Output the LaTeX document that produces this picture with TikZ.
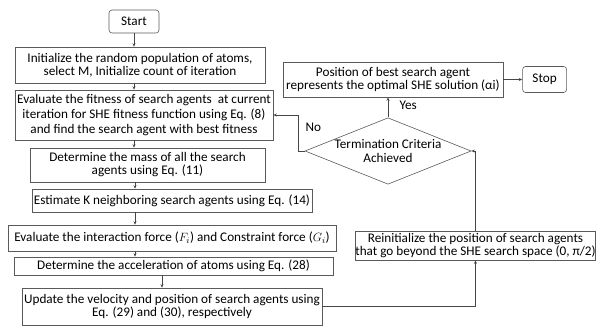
\documentclass[tikz,border=0pt]{standalone}
\usepackage{fontspec}
\setmainfont{Carlito}
\usepackage{tikz}
\usetikzlibrary{shapes.geometric, arrows.meta, positioning, calc}
\definecolor{boxline}{RGB}{90,90,90}
\definecolor{flowline}{RGB}{70,70,70}
\tikzset{
  block/.style={
    rectangle, draw=boxline, semithick, inner sep=0pt,
    align=center, font=\fontsize{13.2}{13}\selectfont
  },
  term/.style={block, rounded corners=3pt},
  decide/.style={
    diamond, draw=boxline, semithick, inner sep=0pt, aspect=2.5,
    align=center, font=\fontsize{13.2}{14.5}\selectfont
  },
  arr/.style={-{Stealth[length=3.5pt,width=3pt]}, flowline, semithick},
  lbl/.style={font=\fontsize{13.2}{14.5}\selectfont}
}

\begin{document}
\begin{tikzpicture}[x=1pt, y=-1pt]
  \useasboundingbox (0,0) rectangle (599,326);

  \node[term, minimum width=50pt, minimum height=23pt] (start) at (134,21.5)
        {Start};

  \node[block, minimum width=250pt, minimum height=36pt] (init) at (140,65)
        {Initialize the random population of atoms,\\select M, Initialize count of iteration};

  \node[block, minimum width=258pt, minimum height=50pt,
        font=\fontsize{13.2}{15}\selectfont] (fit) at (144,115)
        {Evaluate the fitness of search agents\ \ at current\\iteration for SHE fitness function using Eq. (8)\\and find the search agent with best fitness};

  \node[block, minimum width=235pt, minimum height=34pt] (mass) at (147.5,165)
        {Determine the mass of all the search\\agents using Eq. (11)};

  \node[block, minimum width=280pt, minimum height=23pt] (nbr) at (172,200.5)
        {Estimate K neighboring search agents using Eq. (14)};

  \node[block, minimum width=328pt, minimum height=26pt] (force) at (172,238)
        {Evaluate the interaction force ($F_i$) and Constraint force ($G_i$)};

  \node[block, minimum width=319pt, minimum height=18pt] (acc) at (173.5,266)
        {Determine the acceleration of atoms using Eq. (28)};

  \node[block, minimum width=300pt, minimum height=37pt] (upd) at (172,306.5)
        {Update the velocity and position of search agents using\\Eq. (29) and (30), respectively};

  \node[decide, minimum width=150pt, minimum height=60pt] (term) at (388,151)
        {Termination Criteria\\Achieved};

  \node[block, minimum width=220pt, minimum height=35pt] (best) at (393,79.5)
        {Position of best search agent\\represents the optimal SHE solution (αi)};

  \node[term, minimum width=44pt, minimum height=26pt, right=19pt of best] (stop)
        {Stop};

  \node[block, minimum width=235pt, minimum height=29pt] (reinit) at (475.5,245.5)
        {Reinitialize the position of search agents\\that go beyond the SHE search space (0, π/2)};

  \coordinate (nocorner) at (298,151);

  % main column
  \draw[arr] (start) -- (start |- init.north);
  \draw[arr] (start |- init.south) -- (start |- fit.north);
  \draw[arr] (start |- fit.south) -- (start |- mass.north);
  \draw[arr] ([xshift=-12.5pt]mass.south) -- ([xshift=-12.5pt]mass.south |- nbr.north);
  \draw[arr] ([xshift=-37pt]nbr.south) -- ([xshift=-37pt]nbr.south |- force.north);
  \draw[arr] ([xshift=-37pt]force.south) -- ([xshift=-37pt]force.south |- acc.north);
  \draw[arr] ([xshift=-11.5pt]acc.south) -- ([xshift=-11.5pt]acc.south |- upd.north);

  % loop back
  \draw[arr] (upd.east) -- (reinit.south |- upd.east) -- (reinit.south);
  \draw[arr] (reinit.north) -- (reinit.north |- term.east) -- (term.east);
  \draw[arr] (term.west) -- (nocorner) -- (nocorner |- fit.east) -- (fit.east);
  \draw[arr] (term.north) -- (term.north |- best.south);
  \draw[arr] (best) -- (stop);

  \node[lbl, anchor=west] (yes) at (396,105) {Yes};
  \node[lbl, anchor=west] (no) at (302,127) {No};

\end{tikzpicture}
\end{document}
